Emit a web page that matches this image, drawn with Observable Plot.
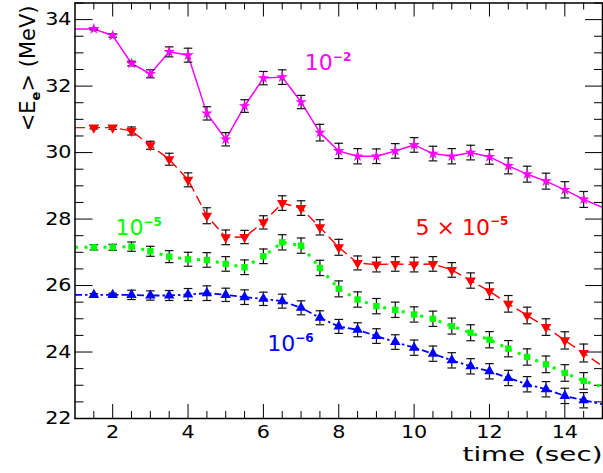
<!DOCTYPE html>
<html><head><meta charset="utf-8">
<script src="https://cdn.jsdelivr.net/npm/d3@7"></script>
<script src="https://cdn.jsdelivr.net/npm/@observablehq/plot@0.6"></script>
<style>html,body{margin:0;padding:0;background:#fff;}</style>
</head><body>
<div id="chart"></div>
<script>
// ---- data ----
const times = [1.5,2,2.5,3,3.5,4,4.5,5,5.5,6,6.5,7,7.5,8,8.5,9,9.5,10,10.5,11,11.5,12,12.5,13,13.5,14,14.5];
const edgeTimes = [1, 15];

const mag    = [33.72,33.52,32.68,32.37,33.03,32.93,31.18,30.40,31.40,32.24,32.27,31.52,30.60,30.05,29.89,29.89,30.05,30.23,29.97,29.89,30.00,29.87,29.60,29.35,29.14,28.88,28.59];
const magErr = [0.03,0.05,0.07,0.12,0.15,0.21,0.20,0.20,0.19,0.20,0.22,0.20,0.25,0.23,0.23,0.22,0.22,0.22,0.22,0.23,0.22,0.22,0.24,0.24,0.24,0.245,0.24];
const magEdges = [33.72, 28.35];

const red    = [30.75,30.75,30.65,30.22,29.80,29.18,28.10,27.45,27.46,27.90,28.48,28.33,27.75,27.15,26.68,26.63,26.65,26.63,26.65,26.47,26.15,25.83,25.45,25.10,24.75,24.35,23.97];
const redErr = [0.04,0.05,0.12,0.12,0.18,0.21,0.24,0.22,0.20,0.20,0.22,0.22,0.23,0.24,0.21,0.22,0.22,0.22,0.22,0.22,0.23,0.25,0.25,0.25,0.25,0.26,0.27];
const redEdges = [30.75, 23.57];

const green    = [27.15,27.15,27.17,27.03,26.87,26.79,26.77,26.65,26.55,26.88,27.30,27.20,26.53,25.90,25.58,25.38,25.27,25.13,25.00,24.78,24.58,24.37,24.10,23.85,23.63,23.37,23.13];
const greenErr = [0.08,0.09,0.14,0.15,0.18,0.21,0.22,0.22,0.22,0.22,0.23,0.23,0.23,0.24,0.23,0.23,0.23,0.23,0.23,0.24,0.24,0.245,0.245,0.245,0.25,0.25,0.25];
const greenEdges = [27.15, 22.95];

const blue    = [25.72,25.72,25.72,25.70,25.70,25.73,25.77,25.72,25.65,25.60,25.53,25.33,25.03,24.77,24.67,24.48,24.30,24.13,23.95,23.75,23.57,23.42,23.22,23.03,22.88,22.68,22.55];
const blueErr = [0.04,0.05,0.14,0.14,0.15,0.18,0.22,0.20,0.22,0.20,0.21,0.21,0.21,0.21,0.21,0.22,0.22,0.23,0.23,0.23,0.23,0.23,0.23,0.23,0.23,0.23,0.23];
const blueEdges = [25.72, 22.43];

const xTickLabels = [2,4,6,8,10,12,14];
const yTickLabels = [22,24,26,28,30,32,34];
const xTitle = "time (sec)";
const yTitle = "<E_e> (MeV)";
// label text ("^" separates the exponent) and anchor in data units
const labelTexts = ["10^\u22122", "5 \u00d7 10^\u22125", "10^\u22125", "10^\u22126"];
const labelT = [7.10, 10.04, 2.075, 6.10];
const labelV = [32.48, 27.53, 27.51, 24.02];

// ---- layout / styles ----
const W = 603, H = 473;
const M = {top: 2.5, right: 1, bottom: 55, left: 74.5};
const plotW = W - M.left - M.right, plotH = H - M.top - M.bottom;
const FONT = "DejaVu Sans";

const triangleDown = {draw(ctx, size) {
  const y = -Math.sqrt(size / (3 * Math.sqrt(3)));
  ctx.moveTo(0, -2 * y); ctx.lineTo(-Math.sqrt(3) * y, y); ctx.lineTo(Math.sqrt(3) * y, y); ctx.closePath();
}};
const capSymbol = {draw(ctx, size) { const w = Math.sqrt(size / Math.PI); ctx.moveTo(-w, 0); ctx.lineTo(w, 0); }};

const series = [
  {values: mag,   errors: magErr,   edges: magEdges,   color: "#ff00ff", dash: null,        lw: 1.5, symbol: "star",       r: 3.6},
  {values: red,   errors: redErr,   edges: redEdges,   color: "#ff0000", dash: "10,5",      lw: 1.4, symbol: triangleDown, r: 3.9},
  {values: green, errors: greenErr, edges: greenEdges, color: "#00ff00", dash: "3,6.5",     lw: 3,   symbol: "square",     r: 3.6},
  {values: blue,  errors: blueErr,  edges: blueEdges,  color: "#0000ff", dash: "7,3,2.5,3", lw: 1.8, symbol: "triangle",   r: 3.9}
];

const marks = [];
// ticks (inward, on all four sides)
const xMinor = d3.range(1.5, 15, 0.5).filter(v => v % 2 !== 0);
const yMinor = d3.range(22.5, 34.6, 0.5).filter(v => v % 2 !== 0);
const tickStyle = {stroke: "black", strokeWidth: 1};
marks.push(
  Plot.ruleX(xTickLabels, {...tickStyle, insetTop: plotH - 14}),
  Plot.ruleX(xMinor, {...tickStyle, insetTop: plotH - 7}),
  Plot.ruleX(xTickLabels, {...tickStyle, insetBottom: plotH - 14}),
  Plot.ruleX(xMinor, {...tickStyle, insetBottom: plotH - 7}),
  Plot.ruleY(yTickLabels, {...tickStyle, insetRight: plotW - 18}),
  Plot.ruleY(yMinor, {...tickStyle, insetRight: plotW - 9}),
  Plot.ruleY(yTickLabels, {...tickStyle, insetLeft: plotW - 17}),
  Plot.ruleY(yMinor, {...tickStyle, insetLeft: plotW - 8})
);

series.forEach(s => {
  const lineData = [{t: edgeTimes[0], v: s.edges[0]}, ...times.map((t, i) => ({t, v: s.values[i]})), {t: edgeTimes[1], v: s.edges[1]}];
  marks.push(Plot.line(lineData, {x: "t", y: "v", stroke: s.color, strokeWidth: s.lw, strokeDasharray: s.dash, strokeLinecap: "butt"}));
});
series.forEach(s => {
  const pts = times.map((t, i) => ({t, v: s.values[i], e: s.errors[i]}));
  marks.push(
    Plot.ruleX(pts, {x: "t", y1: d => d.v - d.e, y2: d => d.v + d.e, stroke: "#111", strokeWidth: 1.2}),
    Plot.dot(pts, {x: "t", y: d => d.v - d.e, symbol: capSymbol, r: 4.3, fill: "none", stroke: "#111", strokeWidth: 1.2}),
    Plot.dot(pts, {x: "t", y: d => d.v + d.e, symbol: capSymbol, r: 4.3, fill: "none", stroke: "#111", strokeWidth: 1.2})
  );
});
series.forEach(s => {
  const pts = times.map((t, i) => ({t, v: s.values[i]}));
  marks.push(Plot.dot(pts, {x: "t", y: "v", symbol: s.symbol, r: s.r, fill: s.color, stroke: "none"}));
});

marks.push(
  Plot.frame({stroke: "black", strokeWidth: 1.5}),
  Plot.axisX({ticks: xTickLabels, tickSize: 0, tickPadding: 7, fontSize: 18, label: null, tickFormat: d => String(d)}),
  Plot.axisY({ticks: yTickLabels, tickSize: 0, tickPadding: 3.5, fontSize: 18, label: null, tickFormat: d => String(d)}),
  Plot.text([xTitle], {frameAnchor: "bottom-right", textAnchor: "end", lineAnchor: "bottom", dy: 42, fontSize: 19, fill: "black"}),
  Plot.text([yTitle], {frameAnchor: "top-left", rotate: -90, textAnchor: "end", lineAnchor: "bottom", dx: -40.5, dy: 2.5, fontSize: 21, fill: "black"})
);
labelTexts.forEach((txt, i) => {
  marks.push(Plot.text([{t: labelT[i], v: labelV[i], txt}], {x: "t", y: "v", text: "txt", textAnchor: "start", lineAnchor: "bottom", fontSize: 22, fill: series[i].color}));
});

const svg = Plot.plot({
  width: W, height: H,
  marginTop: M.top, marginRight: M.right, marginBottom: M.bottom, marginLeft: M.left,
  x: {domain: [1, 15], label: null},
  y: {domain: [22, 34.5], label: null},
  style: {fontFamily: FONT, background: "white", color: "black"},
  marks
});
document.getElementById("chart").append(svg);

// ---- text post-processing: super/subscripts and horizontal stretch ----
const NS = "http://www.w3.org/2000/svg";
svg.querySelectorAll("text").forEach(t => {
  const s = t.textContent;
  if (s.includes("^")) {
    const [base, exp] = s.split("^");
    t.textContent = "";
    const b = document.createElementNS(NS, "tspan"); b.textContent = base; t.append(b);
    const e = document.createElementNS(NS, "tspan"); e.textContent = exp;
    e.setAttribute("dy", "-9.5"); e.setAttribute("font-size", "12"); e.setAttribute("font-weight", "bold");
    t.append(e);
  } else if (s === yTitle) {
    const [pre, rest] = s.split("_");
    t.textContent = "";
    const a = document.createElementNS(NS, "tspan"); a.textContent = pre; t.append(a);
    const sub = document.createElementNS(NS, "tspan"); sub.textContent = rest[0];
    sub.setAttribute("dy", "5"); sub.setAttribute("font-size", "13"); sub.setAttribute("font-weight", "bold"); t.append(sub);
    const c = document.createElementNS(NS, "tspan"); c.textContent = rest.slice(1); c.setAttribute("dy", "-5"); t.append(c);
  } else if (s === xTitle) {
    t.setAttribute("textLength", 140); t.setAttribute("lengthAdjust", "spacingAndGlyphs");
  }
});
svg.querySelectorAll('g[aria-label="x-axis tick label"] text, g[aria-label="y-axis tick label"] text').forEach(t => {
  const L = t.getComputedTextLength();
  t.setAttribute("textLength", L * 1.15); t.setAttribute("lengthAdjust", "spacingAndGlyphs");
});
</script>
</body></html>
